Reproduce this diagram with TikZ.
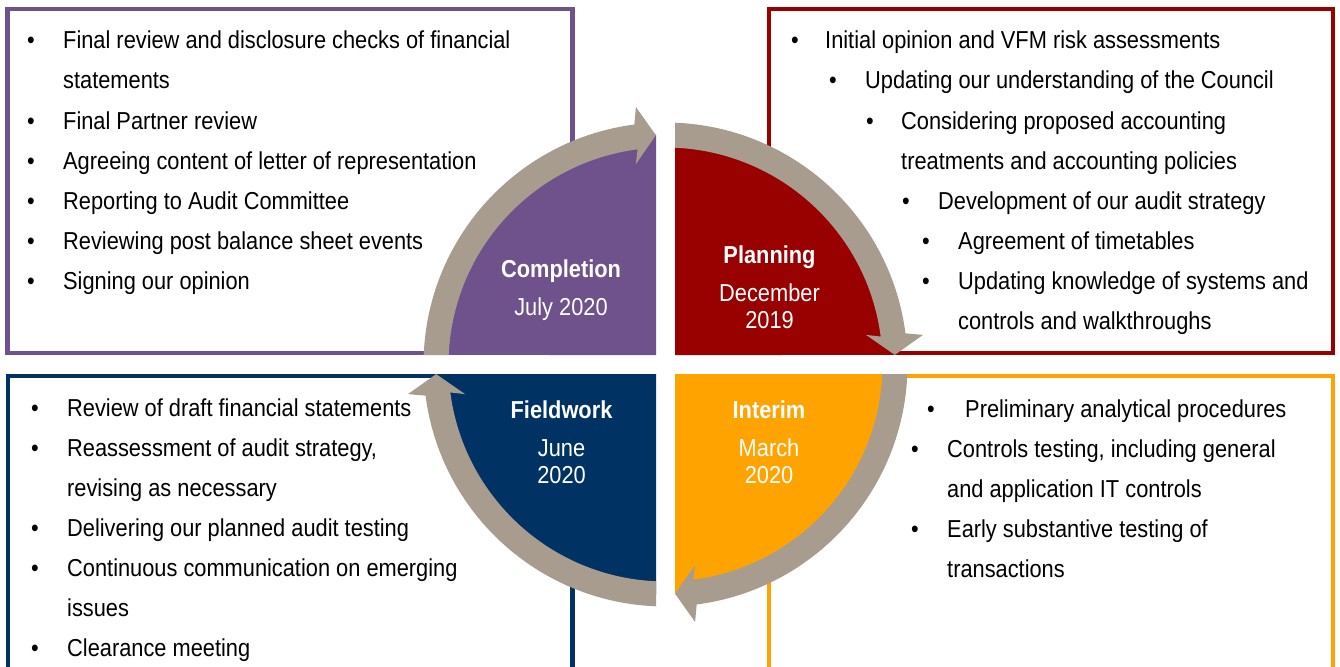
\documentclass[tikz,border=0pt]{standalone}
\usepackage{fontspec}
\setmainfont{Liberation Sans}[FakeStretch=0.89]

\definecolor{phasepurple}{RGB}{111,81,140}
\definecolor{phasered}{RGB}{153,0,0}
\definecolor{phasenavy}{RGB}{0,51,99}
\definecolor{phaseorange}{RGB}{255,163,0}
\definecolor{ringgray}{RGB}{168,156,143}

\newcommand\bodysize{\fontsize{24.5}{29}\selectfont}

\tikzset{
  body/.style={anchor=base west, inner sep=0pt, font=\bodysize, text=black},
  dot/.style={anchor=base, inner sep=0pt, font=\bodysize, text=black},
  phasetitle/.style={anchor=base, inner sep=0pt, font=\bodysize\bfseries, text=white},
  phasedate/.style={anchor=base, inner sep=0pt, font=\bodysize, text=white},
  frame/.style={line width=4.5pt},
  ringarrow/.style={fill=ringgray},
}

\begin{document}
\begin{tikzpicture}[x=1pt,y=1pt]
\useasboundingbox (0,0) rectangle (1340,-666);
\clip (0,0) rectangle (1340,-666);

% outline boxes of the four phases
\draw[frame, phasepurple] (7.5,-9) rectangle (572.5,-353);
\draw[frame, phasered]    (769,-9) rectangle (1333,-353);
\draw[frame, phasenavy]   (8,-376) rectangle (572.5,-700);
\draw[frame, phaseorange] (769,-376) rectangle (1333,-700);

% quarter discs and the circular arrows
\foreach \rot/\col in {0/phasepurple, -90/phasered, -180/phaseorange, -270/phasenavy}{
  \begin{scope}[shift={(665.5,-364.5)}, rotate=\rot]
    \fill[\col] (-9.5,9.5) -- (177.63:230) arc[start angle=177.63, end angle=92.37, radius=230] -- cycle;
    \fill[ringarrow] (177.49:217) -- (177.75:242)
      arc[start angle=177.75, end angle=97.4, radius=242]
      -- (-29.6,257.5) -- (-9.6,229.3) -- (-29.6,200.5)
      -- (97.4:217) arc[start angle=97.4, end angle=177.49, radius=217] -- cycle;
  \end{scope}
}

% phase labels
\node[phasetitle] (comp-title) at (561,-277) {Completion};
\node[phasedate]  (comp-date)  at (561,-315) {July 2020};
\node[phasetitle] (plan-title) at (769.5,-263) {Planning};
\node[phasedate]  (plan-month) at (769.5,-301) {December};
\node[phasedate]  (plan-year)  at (769.5,-328) {2019};
\node[phasetitle] (field-title) at (561.5,-418) {Fieldwork};
\node[phasedate]  (field-month) at (561.5,-456) {June};
\node[phasedate]  (field-year)  at (561.5,-483) {2020};
\node[phasetitle] (int-title) at (769,-418) {Interim};
\node[phasedate]  (int-month) at (769,-456) {March};
\node[phasedate]  (int-year)  at (769,-483) {2020};

% completion tasks
\node[dot]  (c-d1) at (31,-49) {•};
\node[body] (c-t1) at (63,-49) {Final review and disclosure checks of financial};
\node[body] (c-t2) at (63,-89) {statements};
\node[dot]  (c-d3) at (31,-129) {•};
\node[body] (c-t3) at (63,-129) {Final Partner review};
\node[dot]  (c-d4) at (31,-169) {•};
\node[body] (c-t4) at (63,-169) {Agreeing content of letter of representation};
\node[dot]  (c-d5) at (31,-209) {•};
\node[body] (c-t5) at (63,-209) {Reporting to Audit Committee};
\node[dot]  (c-d6) at (31,-249) {•};
\node[body] (c-t6) at (63,-249) {Reviewing post balance sheet events};
\node[dot]  (c-d7) at (31,-289) {•};
\node[body] (c-t7) at (63,-289) {Signing our opinion};

% planning tasks
\node[dot]  (p-d1) at (795,-49) {•};
\node[body] (p-t1) at (825,-49) {Initial opinion and VFM risk assessments};
\node[dot]  (p-d2) at (833,-89) {•};
\node[body] (p-t2) at (865,-89) {Updating our understanding of the Council};
\node[dot]  (p-d3) at (870,-129) {•};
\node[body] (p-t3) at (901,-129) {Considering proposed accounting};
\node[body] (p-t4) at (901,-169) {treatments and accounting policies};
\node[dot]  (p-d5) at (906,-209) {•};
\node[body] (p-t5) at (938,-209) {Development of our audit strategy};
\node[dot]  (p-d6) at (926,-249) {•};
\node[body] (p-t6) at (958,-249) {Agreement of timetables};
\node[dot]  (p-d7) at (926,-289) {•};
\node[body] (p-t7) at (958,-289) {Updating knowledge of systems and};
\node[body] (p-t8) at (958,-329) {controls and walkthroughs};

% fieldwork tasks
\node[dot]  (f-d1) at (35,-416) {•};
\node[body] (f-t1) at (67,-416) {Review of draft financial statements};
\node[dot]  (f-d2) at (35,-456) {•};
\node[body] (f-t2) at (67,-456) {Reassessment of audit strategy,};
\node[body] (f-t3) at (67,-496) {revising as necessary};
\node[dot]  (f-d4) at (35,-536) {•};
\node[body] (f-t4) at (67,-536) {Delivering our planned audit testing};
\node[dot]  (f-d5) at (35,-576) {•};
\node[body] (f-t5) at (67,-576) {Continuous communication on emerging};
\node[body] (f-t6) at (67,-616) {issues};
\node[dot]  (f-d7) at (35,-656) {•};
\node[body] (f-t7) at (67,-656) {Clearance meeting};

% interim tasks
\node[dot]  (i-d1) at (931,-417) {•};
\node[body] (i-t1) at (965,-417) {Preliminary analytical procedures};
\node[dot]  (i-d2) at (915,-457) {•};
\node[body] (i-t2) at (947,-457) {Controls testing, including general};
\node[body] (i-t3) at (947,-497) {and application IT controls};
\node[dot]  (i-d4) at (915,-537) {•};
\node[body] (i-t4) at (947,-537) {Early substantive testing of};
\node[body] (i-t5) at (947,-577) {transactions};

\end{tikzpicture}
\end{document}
